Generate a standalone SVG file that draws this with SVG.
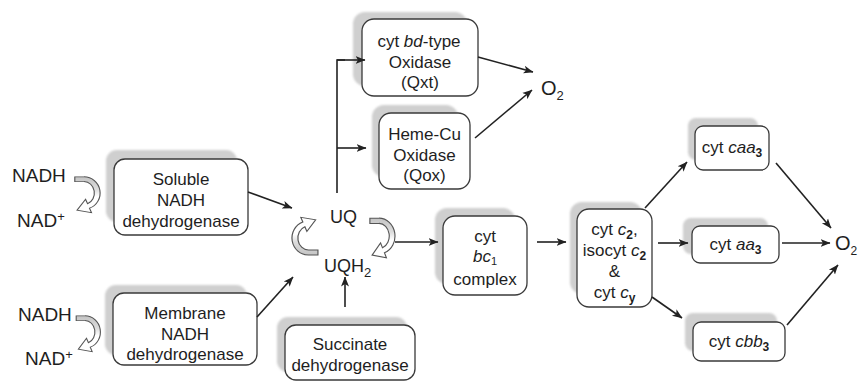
<svg xmlns="http://www.w3.org/2000/svg" width="858" height="382" viewBox="0 0 858 382">
<style>
text{font-family:"Liberation Sans",Arial,sans-serif;fill:#1e1e1e}
.t{font-size:17px;text-anchor:middle}
.lbl{font-size:19px}
.box{fill:#fff;stroke:#3a3a3a;stroke-width:1.3}
.sh{fill:#cfcfcf;filter:url(#blur)}
.ln{fill:none;stroke:#222;stroke-width:1.6}
.arr{marker-end:url(#ah)}
.cv{fill:url(#cg);stroke:#555;stroke-width:1}
.i{font-style:italic}
.sb{font-weight:bold;font-size:12px}
</style>
<defs>
<filter id="blur" x="-10%" y="-10%" width="120%" height="120%"><feGaussianBlur stdDeviation="0.8"/></filter>
<marker id="ah" viewBox="0 0 10 10" refX="9.5" refY="5" markerWidth="10" markerHeight="10" markerUnits="userSpaceOnUse" orient="auto"><path d="M0,1 L10,5 L0,9 L2.5,5 z" fill="#222"/></marker>
<linearGradient id="cg" x1="0" y1="0" x2="0" y2="1"><stop offset="0" stop-color="#c4c4c4"/><stop offset="0.35" stop-color="#dcdcdc"/><stop offset="0.55" stop-color="#fff"/><stop offset="1" stop-color="#fff"/></linearGradient>
<path id="curl" d="M -8,-17 L 0,-17 A 14 17 0 0 1 4.79,15.98 L 6.5,20.7 L -6.07,18.2 L 1.37,6.58 L 3.08,11.28 A 9 12 0 0 0 0,-12 L -8,-12 Z"/>
</defs>

<g id="nadh-top">
<text class="lbl" x="12" y="182">NADH</text>
<text class="lbl" x="17" y="227">NAD<tspan font-size="13" dy="-6">+</tspan></text>
<use href="#curl" class="cv" transform="translate(84,193) scale(1.15,0.95)"/>
</g>
<g id="nadh-bottom">
<text class="lbl" x="18" y="321" font-size="18">NADH</text>
<text class="lbl" x="25" y="365" font-size="18">NAD<tspan font-size="13" dy="-6">+</tspan></text>
<use href="#curl" class="cv" transform="translate(85,332) scale(1.1,0.95)"/>
</g>

<g id="soluble">
<rect class="sh" x="106" y="150" width="131" height="72" rx="11"/>
<rect class="box" x="114" y="159" width="134" height="76" rx="11"/>
<text class="t" x="181" y="185">Soluble</text>
<text class="t" x="181" y="206">NADH</text>
<text class="t" x="181" y="227">dehydrogenase</text>
</g>
<g id="membrane">
<rect class="sh" x="105" y="285" width="142" height="70" rx="11"/>
<rect class="box" x="113" y="293" width="144" height="72" rx="11"/>
<text class="t" x="185" y="319">Membrane</text>
<text class="t" x="185" y="340">NADH</text>
<text class="t" x="185" y="360">dehydrogenase</text>
</g>
<g id="succinate">
<rect class="sh" x="277" y="317" width="130" height="55" rx="11"/>
<rect class="box" x="285" y="325" width="130" height="55" rx="11"/>
<text class="t" x="350" y="350">Succinate</text>
<text class="t" x="350" y="371">dehydrogenase</text>
</g>
<g id="uq">
<text x="330" y="223" font-size="18">UQ</text>
<text x="324" y="272" font-size="18">UQH<tspan font-size="13" dy="5">2</tspan></text>
<use href="#curl" class="cv" transform="translate(379,236) scale(1.14,1.05)"/>
<use href="#curl" class="cv" transform="translate(308.5,238) rotate(180) scale(1.18,1.0)"/>
</g>
<g id="qxt">
<rect class="sh" x="353" y="12" width="114" height="74" rx="12"/>
<rect class="box" x="362" y="19" width="116" height="77" rx="12"/>
<text class="t" x="419" y="47">cyt <tspan class="i">bd</tspan>-type</text>
<text class="t" x="420" y="68">Oxidase</text>
<text class="t" x="420" y="88">(Qxt)</text>
</g>
<g id="qox">
<rect class="sh" x="372" y="105" width="86" height="72" rx="12"/>
<rect class="box" x="379" y="113" width="91" height="76" rx="12"/>
<text class="t" x="424.5" y="140">Heme-Cu</text>
<text class="t" x="424.5" y="161">Oxidase</text>
<text class="t" x="424.5" y="181">(Qox)</text>
</g>
<g id="o2-top">
<text x="541" y="95" font-size="20">O<tspan font-size="13" dy="5">2</tspan></text>
</g>
<g id="bc1">
<rect class="sh" x="435" y="208" width="80" height="76" rx="12"/>
<rect class="box" x="443" y="216" width="84" height="79" rx="12"/>
<text class="t" x="485" y="242">cyt</text>
<text class="t" x="485" y="262"><tspan class="i">bc</tspan><tspan font-size="11" dy="3">1</tspan></text>
<text class="t" x="485" y="285">complex</text>
</g>
<g id="cytc">
<rect class="sh" x="570" y="202" width="72" height="92" rx="12"/>
<rect class="box" x="577" y="209" width="75" height="98" rx="12"/>
<text class="t" x="614.5" y="235">cyt <tspan class="i">c</tspan><tspan class="sb" dy="4">2</tspan><tspan dy="-4">,</tspan></text>
<text class="t" x="614.5" y="256">isocyt <tspan class="i">c</tspan><tspan class="sb" dy="4">2</tspan></text>
<text class="t" x="614.5" y="277">&amp;</text>
<text class="t" x="614.5" y="298">cyt <tspan class="i">c</tspan><tspan class="sb" dy="4">y</tspan></text>
</g>
<g id="caa3">
<rect class="sh" x="688" y="118" width="70" height="42" rx="8"/>
<rect class="box" x="695" y="126" width="74" height="44" rx="8"/>
<text class="t" x="732" y="153">cyt <tspan class="i">caa</tspan><tspan class="sb" dy="4">3</tspan></text>
</g>
<g id="aa3">
<rect class="sh" x="683" y="218" width="85" height="36" rx="8"/>
<rect class="box" x="692" y="226" width="87" height="37" rx="8"/>
<text class="t" x="735.5" y="250">cyt <tspan class="i">aa</tspan><tspan class="sb" dy="4">3</tspan></text>
</g>
<g id="cbb3">
<rect class="sh" x="685" y="313" width="92" height="38" rx="8"/>
<rect class="box" x="693" y="322" width="92" height="39" rx="8"/>
<text class="t" x="739" y="347">cyt <tspan class="i">cbb</tspan><tspan class="sb" dy="4">3</tspan></text>
</g>
<g id="o2-right">
<text x="835" y="250" font-size="20">O<tspan font-size="12" dy="5">2</tspan></text>
</g>

<g id="connectors">
<line class="ln arr" x1="248" y1="192" x2="292" y2="208"/>
<line class="ln arr" x1="257" y1="317" x2="293" y2="277"/>
<line class="ln arr" x1="345" y1="307" x2="345" y2="277"/>
<polyline class="ln" points="337,193 337,60 345,60"/>
<line class="ln arr" x1="337" y1="60" x2="365" y2="60"/>
<line class="ln arr" x1="337" y1="148" x2="366" y2="148"/>
<line class="ln arr" x1="478" y1="57" x2="533" y2="72"/>
<line class="ln arr" x1="475" y1="138" x2="532" y2="90"/>
<line class="ln arr" x1="395" y1="242" x2="438" y2="242"/>
<line class="ln arr" x1="537" y1="242" x2="566" y2="242"/>
<line class="ln arr" x1="645" y1="208" x2="687" y2="162"/>
<line class="ln arr" x1="658" y1="243" x2="688" y2="243"/>
<line class="ln arr" x1="652" y1="297" x2="682" y2="318"/>
<line class="ln arr" x1="776" y1="163" x2="831" y2="228"/>
<line class="ln arr" x1="782" y1="243" x2="830" y2="243"/>
<line class="ln arr" x1="787" y1="325" x2="838" y2="265"/>
</g>
</svg>
